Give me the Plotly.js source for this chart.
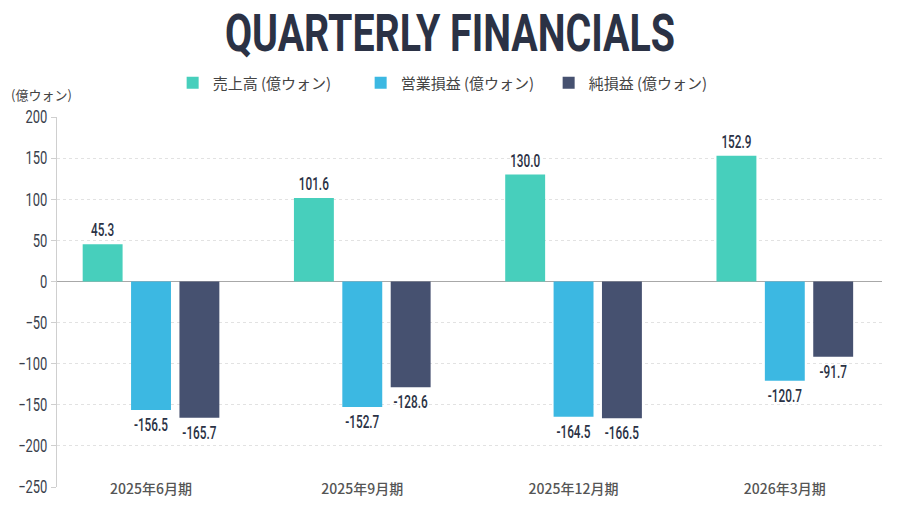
<!DOCTYPE html>
<html>
<head>
<meta charset="utf-8">
<script src="https://cdn.plot.ly/plotly-3.0.1.min.js"></script>
<style>
  body { margin: 0; background: #fff; }
  #chart { width: 900px; height: 506px; }
</style>
</head>
<body>
<div id="chart"></div>
<script>
// quarters on the x axis
const quarters = ['2025年6月期', '2025年9月期', '2025年12月期', '2026年3月期'];

// series names (legend)
const seriesNames = ['売上高 (億ウォン)', '営業損益 (億ウォン)', '純損益 (億ウォン)'];

// values, 億ウォン
const sales = [45.3, 101.6, 130.0, 152.9];
const operatingProfit = [-156.5, -152.7, -164.5, -120.7];
const netProfit = [-165.7, -128.6, -166.5, -91.7];

const yTicks = [200, 150, 100, 50, 0, -50, -100, -150, -200, -250];

const colors = ['#47CFBC', '#3CB8E2', '#465170'];
const darkText = '#2B3245';
const numFont = 'Roboto, "DejaVu Sans", sans-serif';
const cjkFont = '"Noto Sans CJK JP", "Noto Sans", sans-serif';

function makeBar(name, values, color) {
    return {
        type: 'bar',
        name: name,
        x: quarters,
        y: values,
        marker: { color: color },
        texttemplate: '%{y:.1f}',
        textposition: 'outside',
        constraintext: 'none',
        cliponaxis: false,
        textfont: { family: numFont, size: 19, color: darkText, weight: 500 },
        hoverinfo: 'skip'
    };
}

const data = [
    makeBar(seriesNames[0], sales, colors[0]),
    makeBar(seriesNames[1], operatingProfit, colors[1]),
    makeBar(seriesNames[2], netProfit, colors[2])
];

const layout = {
    width: 900,
    height: 506,
    autosize: false,
    margin: { l: 57, r: 18, t: 117, b: 19 },
    paper_bgcolor: '#ffffff',
    plot_bgcolor: '#ffffff',
    barmode: 'group',
    bargap: 0.313,
    bargroupgap: 0.175,
    title: {
        text: 'QUARTERLY FINANCIALS',
        font: { family: numFont, size: 52, color: darkText, weight: 700 },
        x: 0.5,
        xanchor: 'center',
        xref: 'container',
        y: 0.935,
        yref: 'container',
        yanchor: 'middle'
    },
    showlegend: true,
    legend: {
        orientation: 'h',
        x: 0.482,
        xanchor: 'center',
        y: 1.092,
        yanchor: 'middle',
        entrywidth: 143,
        font: { family: cjkFont, size: 15, color: '#444' },
        traceorder: 'normal'
    },
    xaxis: {
        type: 'category',
        range: [-0.445, 3.46],
        showgrid: false,
        showline: false,
        ticks: '',
        tickangle: 0,
        tickfont: { family: cjkFont, size: 14, color: '#555', weight: 500 },
        ticklabelstandoff: -8
    },
    yaxis: {
        range: [-250, 200],
        tickvals: yTicks,
        showgrid: true,
        gridcolor: '#e2e2e2',
        griddash: 'dot',
        zeroline: true,
        zerolinecolor: '#a8a8a8',
        zerolinewidth: 1.5,
        showline: true,
        linecolor: '#cfcfcf',
        linewidth: 1,
        ticks: 'outside',
        ticklen: 5,
        tickcolor: '#cfcfcf',
        tickfont: { family: numFont, size: 18, color: '#3a3f4c' }
    },
    annotations: [{
        text: '(億ウォン)',
        xref: 'paper',
        yref: 'paper',
        x: -0.058,
        xanchor: 'left',
        y: 1.092,
        yanchor: 'top',
        showarrow: false,
        font: { family: cjkFont, size: 13, color: '#444' }
    }]
};

// squeeze a text horizontally, the reference uses a condensed face
function condense(selector, factor) {
    document.querySelectorAll(selector).forEach(function (el) {
        var w = el.getComputedTextLength();
        el.setAttribute('textLength', w * factor);
        el.setAttribute('lengthAdjust', 'spacingAndGlyphs');
    });
}

Plotly.newPlot('chart', data, layout, { staticPlot: true }).then(function () {
    var t = document.querySelector('.gtitle');
    if (t) {
        t.setAttribute('textLength', 450);
        t.setAttribute('lengthAdjust', 'spacingAndGlyphs');
    }
    condense('#chart .bartext', 0.62);
    condense('#chart .ytick text', 0.72);
});
</script>
</body>
</html>
